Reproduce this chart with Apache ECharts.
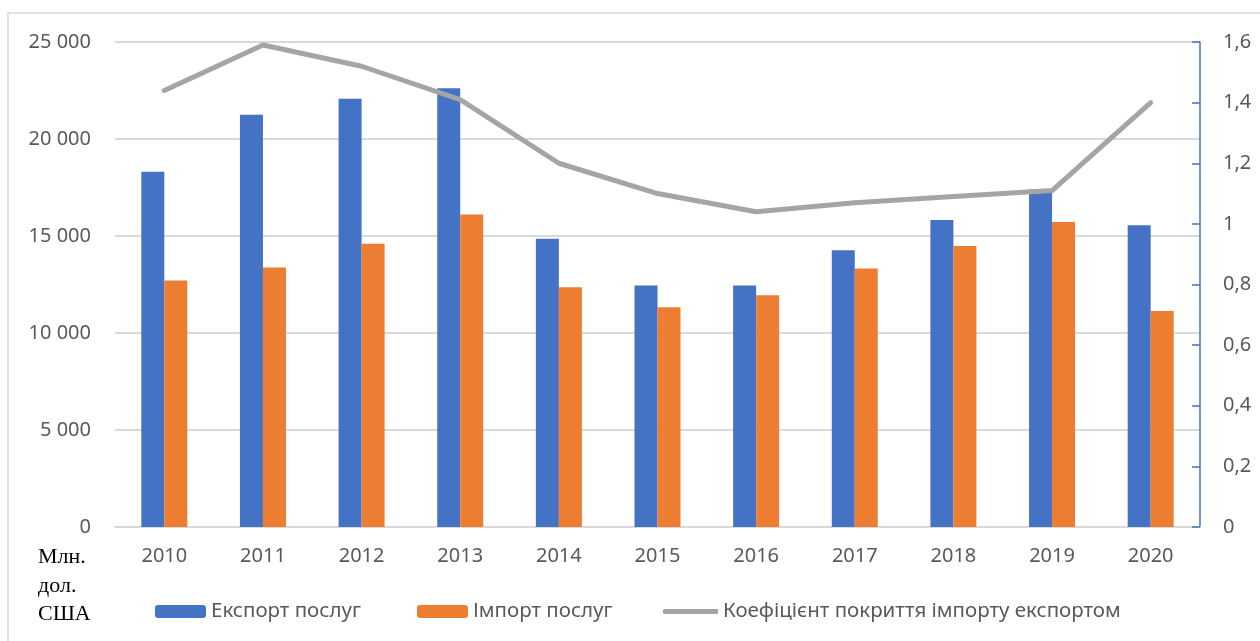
<!DOCTYPE html>
<html>
<head>
<meta charset="utf-8">
<script src="https://cdn.jsdelivr.net/npm/echarts@6/dist/echarts.min.js"></script>
<style>
  html, body { margin: 0; padding: 0; background: #fff; }
  #chart { width: 1260px; height: 641px; }
</style>
</head>
<body>
<div id="chart"></div>
<script>
// роки
const years = ['2010', '2011', '2012', '2013', '2014', '2015', '2016', '2017', '2018', '2019', '2020']
// млн. дол. США
const exportServices = [18310, 21250, 22080, 22610, 14860, 12450, 12450, 14260, 15820, 17400, 15560]
const importServices = [12710, 13380, 14600, 16110, 12360, 11330, 11950, 13330, 14480, 15720, 11140]
// коефіцієнт покриття
const coverageRatio = [1.44, 1.59, 1.52, 1.41, 1.2, 1.1, 1.04, 1.07, 1.09, 1.11, 1.4]

const leftTicks = { min: 0, max: 25000, interval: 5000 }
const rightTicks = { min: 0, max: 1.6, interval: 0.2 }

const names = ['Експорт послуг', 'Імпорт послуг', 'Коефіцієнт покриття імпорту експортом']

const textColor = '#595959'
const font = '"Noto Sans", sans-serif'

let chart = echarts.init(document.getElementById('chart'))

const legendBase = {
  top: 601,
  padding: 0,
  itemHeight: 13,
  itemGap: 5,
  textStyle: { color: textColor, fontSize: 20.5, fontFamily: font },
  selectedMode: false
}

const options = {
  animation: false,
  textStyle: { fontFamily: font },
  grid: { left: 115, right: 60, top: 42, bottom: 114 },
  graphic: [
    {
      type: 'rect',
      shape: { x: 8, y: 13, width: 1400, height: 800 },
      style: { fill: 'none', stroke: '#d9d9d9', lineWidth: 1.5 },
      silent: true
    },
    {
      type: 'text',
      left: 38,
      top: 543,
      style: {
        text: 'Млн.\nдол.\nСША',
        fill: '#000',
        font: '22px "Liberation Serif", serif',
        lineHeight: 28.5
      }
    }
  ],
  legend: [
    Object.assign({}, legendBase, { left: 155, itemWidth: 51, data: [names[0]] }),
    Object.assign({}, legendBase, { left: 417, itemWidth: 51, data: [names[1]] }),
    Object.assign({}, legendBase, {
      left: 663,
      itemWidth: 55,
      itemHeight: 5,
      data: [{ name: names[2], icon: 'roundRect' }],
      itemStyle: { color: '#a5a5a5' }
    })
  ],
  xAxis: {
    type: 'category',
    data: years,
    axisLine: { lineStyle: { color: '#d9d9d9', width: 2 } },
    axisTick: { show: false },
    axisLabel: { color: textColor, fontSize: 20, margin: 19, fontFamily: font }
  },
  yAxis: [
    {
      type: 'value',
      min: leftTicks.min,
      max: leftTicks.max,
      interval: leftTicks.interval,
      axisLine: { show: false },
      axisTick: { show: false },
      splitLine: { lineStyle: { color: '#d9d9d9', width: 2 } },
      axisLabel: {
        color: textColor,
        fontSize: 20,
        margin: 24,
        fontFamily: font,
        formatter: function (v) {
          return String(v).replace(/\B(?=(\d{3})+(?!\d))/g, ' ')
        }
      }
    },
    {
      type: 'value',
      position: 'right',
      min: rightTicks.min,
      max: rightTicks.max,
      interval: rightTicks.interval,
      axisLine: { show: true, lineStyle: { color: '#4472c4', width: 1.5 } },
      axisTick: { show: true, inside: true, length: 8, lineStyle: { color: '#4472c4', width: 1.5 } },
      splitLine: { show: false },
      axisLabel: {
        color: textColor,
        fontSize: 20,
        margin: 23,
        fontFamily: font,
        formatter: function (v) {
          return String(Number(v.toFixed(1))).replace('.', ',')
        }
      }
    }
  ],
  series: [
    {
      name: names[0],
      type: 'bar',
      data: exportServices,
      barWidth: 23,
      barGap: '0%',
      itemStyle: { color: '#4472c4' }
    },
    {
      name: names[1],
      type: 'bar',
      data: importServices,
      barWidth: 23,
      barGap: '0%',
      itemStyle: { color: '#ed7d31' }
    },
    {
      name: names[2],
      type: 'line',
      yAxisIndex: 1,
      data: coverageRatio,
      symbol: 'none',
      lineStyle: { color: '#a5a5a5', width: 5, cap: 'round', join: 'round' },
      itemStyle: { color: '#a5a5a5' }
    }
  ]
}

chart.setOption(options)
window.addEventListener('resize', function () {
  chart.resize()
})
</script>
</body>
</html>
